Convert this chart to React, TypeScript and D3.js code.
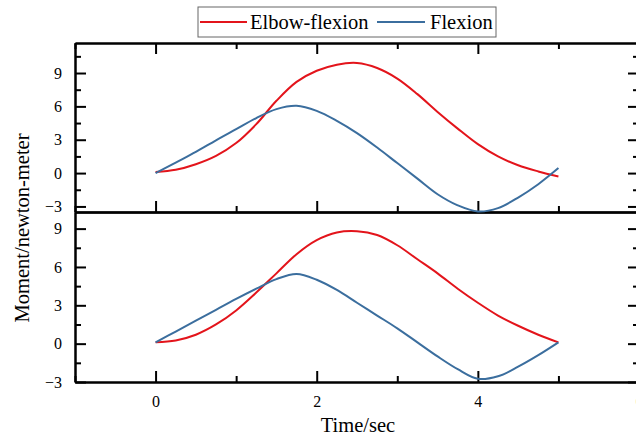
import React, { useEffect, useRef } from 'react';
import * as d3 from 'd3';

// sample times (sec)
const timeSec = [0, 0.25, 0.5, 0.75, 1, 1.25, 1.5, 1.75, 2, 2.25, 2.5, 2.75, 3, 3.25, 3.5, 3.75, 4, 4.25, 4.5, 4.75, 5];

// top panel
const topElbow = [0.1, 0.3, 0.8, 1.55, 2.7, 4.4, 6.5, 8.2, 9.2, 9.75, 9.9, 9.45, 8.5, 7.1, 5.5, 4.0, 2.6, 1.5, 0.7, 0.15, -0.3];
const topFlexion = [0.0, 0.95, 1.9, 2.95, 3.95, 4.95, 5.75, 6.05, 5.6, 4.7, 3.6, 2.3, 0.9, -0.5, -1.9, -2.9, -3.45, -3.15, -2.2, -1.0, 0.45];

// bottom panel
const botElbow = [0.1, 0.25, 0.7, 1.5, 2.6, 4.0, 5.5, 7.0, 8.1, 8.7, 8.8, 8.5, 7.7, 6.6, 5.5, 4.3, 3.2, 2.2, 1.4, 0.7, 0.1];
const botFlexion = [0.1, 0.95, 1.8, 2.65, 3.5, 4.3, 5.05, 5.45, 5.0, 4.2, 3.2, 2.2, 1.2, 0.1, -1.0, -2.0, -2.75, -2.55, -1.8, -0.9, 0.1];

const xMajor = [0, 2, 4, 6];
const xMinor = [-1, 1, 3, 5];
const yMajor = [-3, 0, 3, 6, 9];
const yMinorTop = [-1.5, 1.5, 4.5, 7.5, 10.5];
const yMinorBot = [-1.5, 1.5, 4.5, 7.5];

const seriesNames = ['Elbow-flexion', 'Flexion'];
const colors = ['#e3141b', '#3b6e9e'];

const FONT = '"Liberation Serif", "Times New Roman", serif';

const App = () => {
    const ref = useRef<SVGSVGElement>(null);

    useEffect(() => {
        const width = 636;
        const height = 436;
        const left = 75;
        const right = 639;
        const topY0 = 43;
        const midY = 212;
        const botY1 = 382;

        const svg = d3.select(ref.current);
        svg.selectAll('*').remove();

        const x = d3.scaleLinear().domain([-1, 6]).range([left, right]);
        const yTop = d3.scaleLinear().domain([-3.5, 11.7]).range([midY, topY0]);
        const yBot = d3.scaleLinear().domain([-3, 10.3]).range([botY1, midY]);

        const styleAxis = (g: any) => {
            g.select('.domain').attr('stroke', '#000').attr('stroke-width', 2);
            g.selectAll('.tick line').attr('stroke', '#000').attr('stroke-width', 2);
            g.selectAll('.tick text')
                .attr('fill', '#000')
                .style('font-family', FONT)
                .style('font-size', '16px');
        };

        const drawAxes = (y: any, yMinor: number[], y0: number, y1: number, xLabels: boolean, topTicks: boolean) => {
            // left y
            svg.append('g').attr('transform', `translate(${left},0)`)
                .call(d3.axisLeft(y).tickValues(yMajor).tickSize(-11).tickSizeOuter(0).tickPadding(13).tickFormat(d3.format('d')))
                .call(styleAxis);
            svg.append('g').attr('transform', `translate(${left},0)`)
                .call(d3.axisLeft(y).tickValues(yMinor).tickSize(-6).tickSizeOuter(0).tickFormat(() => ''))
                .call(styleAxis);
            // right y
            svg.append('g').attr('transform', `translate(${right},0)`)
                .call(d3.axisRight(y).tickValues(yMajor).tickSize(-11).tickSizeOuter(0).tickFormat(() => ''))
                .call(styleAxis);
            svg.append('g').attr('transform', `translate(${right},0)`)
                .call(d3.axisRight(y).tickValues(yMinor).tickSize(-6).tickSizeOuter(0).tickFormat(() => ''))
                .call(styleAxis);
            // bottom x
            svg.append('g').attr('transform', `translate(0,${y0})`)
                .call(d3.axisBottom(x).tickValues(xMajor).tickSize(-11).tickSizeOuter(0).tickPadding(14)
                    .tickFormat(xLabels ? d3.format('d') : () => ''))
                .call(styleAxis);
            svg.append('g').attr('transform', `translate(0,${y0})`)
                .call(d3.axisBottom(x).tickValues(xMinor).tickSize(-6).tickSizeOuter(0).tickFormat(() => ''))
                .call(styleAxis);
            // top x
            const tg = svg.append('g').attr('transform', `translate(0,${y1})`);
            if (topTicks) {
                tg.call(d3.axisTop(x).tickValues(xMajor).tickSize(-11).tickSizeOuter(0).tickFormat(() => ''))
                    .call(styleAxis);
                svg.append('g').attr('transform', `translate(0,${y1})`)
                    .call(d3.axisTop(x).tickValues(xMinor).tickSize(-6).tickSizeOuter(0).tickFormat(() => ''))
                    .call(styleAxis);
            } else {
                tg.call(d3.axisTop(x).tickValues([]).tickSizeOuter(0)).call(styleAxis);
            }
        };

        drawAxes(yTop, yMinorTop, midY, topY0, false, true);
        drawAxes(yBot, yMinorBot, botY1, midY, true, false);

        const drawLines = (y: any, sets: number[][]) => {
            sets.forEach((vals, i) => {
                const pts = timeSec.map((t, k) => [t, vals[k]] as [number, number]);
                const line = d3.line<[number, number]>()
                    .x(d => x(d[0]))
                    .y(d => y(d[1]))
                    .curve(d3.curveCatmullRom.alpha(0.5));
                svg.append('path')
                    .datum(pts)
                    .attr('d', line)
                    .attr('fill', 'none')
                    .attr('stroke', colors[i])
                    .attr('stroke-width', 2);
            });
        };

        drawLines(yTop, [topElbow, topFlexion]);
        drawLines(yBot, [botElbow, botFlexion]);

        // axis titles
        svg.append('text')
            .attr('x', 358).attr('y', 432)
            .attr('text-anchor', 'middle')
            .style('font-family', FONT).style('font-size', '20.5px')
            .text('Time/sec');
        svg.append('text')
            .attr('transform', 'translate(29,228) rotate(-90)')
            .attr('text-anchor', 'middle')
            .style('font-family', FONT).style('font-size', '20.5px')
            .text('Moment/newton-meter');

        // legend
        const lg = svg.append('g');
        lg.append('rect')
            .attr('x', 198).attr('y', 7).attr('width', 298).attr('height', 30)
            .attr('fill', '#fff').attr('stroke', '#666').attr('stroke-width', 1);
        const items = [
            { x1: 200, x2: 247, tx: 250 },
            { x1: 377, x2: 425, tx: 430 },
        ];
        items.forEach((it, i) => {
            lg.append('line')
                .attr('x1', it.x1).attr('x2', it.x2).attr('y1', 22).attr('y2', 22)
                .attr('stroke', colors[i]).attr('stroke-width', 2);
            lg.append('text')
                .attr('x', it.tx).attr('y', 29)
                .style('font-family', FONT).style('font-size', '20.5px')
                .text(seriesNames[i]);
        });

        svg.attr('width', width).attr('height', height);
    }, []);

    return (
        <svg
            ref={ref}
            width={636}
            height={436}
            style={{ position: 'absolute', left: 0, top: 0, background: '#fff', overflow: 'hidden' }}
        />
    );
};

export default App;
